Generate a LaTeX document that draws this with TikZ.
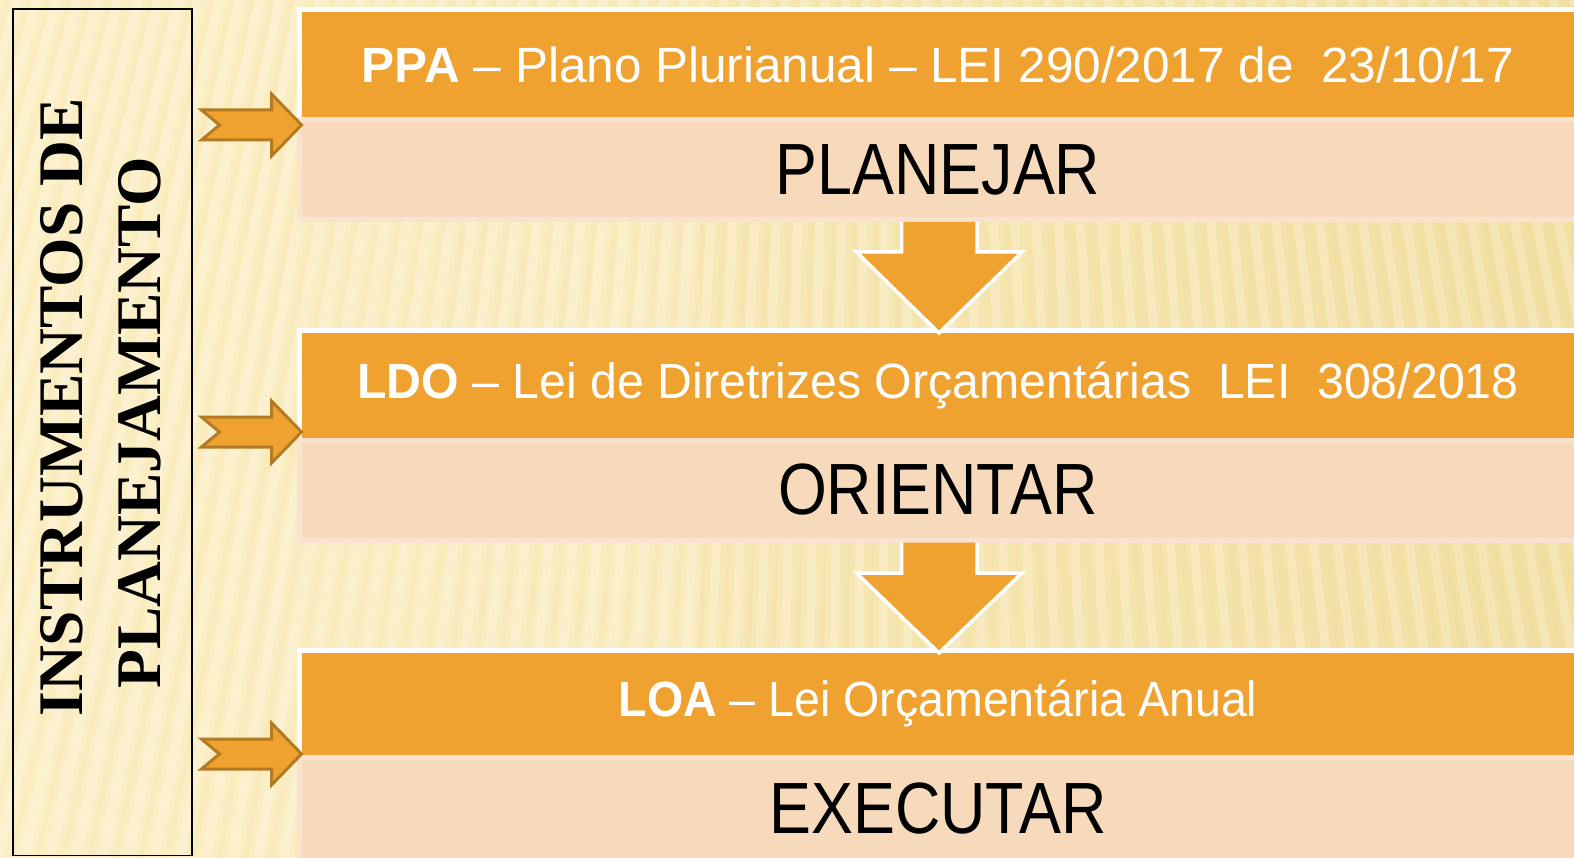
\documentclass[tikz,border=0pt]{standalone}
\usepackage{fontspec}
\setmainfont{Liberation Sans}
\newfontfamily\hdrfont{Liberation Sans}
\newfontfamily\hdrfontB[FakeStretch=0.975]{Liberation Sans}
\newfontfamily\hdrfontC[FakeStretch=0.94]{Liberation Sans}
\newfontfamily\bigfont[FakeStretch=0.865]{Liberation Sans}
\newfontfamily\vfont{Liberation Serif}
\usetikzlibrary{calc}
\definecolor{bgc}{HTML}{FBEFC5}
\definecolor{bgdark}{HTML}{F2DFA2}
\definecolor{org}{HTML}{EFA22F}
\definecolor{peach}{HTML}{F7D9BB}
\definecolor{peachedge}{HTML}{F9E2D0}
\definecolor{arredge}{HTML}{B47A21}
\tikzset{
  hdr/.style={rectangle, fill=org, draw=white, line width=5pt, outer sep=0pt, inner sep=0pt,
    minimum width=1277pt, text=white, font=\hdrfont\fontsize{49.5}{58}\selectfont, anchor=north west},
  bodybox/.style={rectangle, fill=peach, draw=peachedge, line width=5pt, outer sep=0pt, inner sep=0pt,
    minimum width=1277pt, text=black, font=\bigfont\fontsize{72.6}{80}\selectfont, anchor=north west},
  vtext/.style={rotate=90, anchor=base, inner sep=0pt, font=\vfont\bfseries\fontsize{63.5}{70}\selectfont},
  rarrow/.style={fill=org, draw=arredge, line width=3pt, line join=miter},
  darrow/.style={fill=org, draw=white, line width=3.5pt, line join=miter},
  rarr/.pic={\filldraw[rarrow] (-100,-15) -- (-30,-15) -- (-30,-31) -- (0,0) -- (-30,31) -- (-30,15) -- (-100,15) -- (-82,0) -- cycle;}
}
\begin{document}
\begin{tikzpicture}[x=1pt,y=-1pt]
\useasboundingbox (0,0) rectangle (1574,858);
% background
\shade[left color=bgc, right color=bgdark] (0,0) rectangle (1574,858);
\fill[bgc, opacity=0.55] (0,0) rectangle (700,858);
\begin{scope}
\clip (0,0) rectangle (1574,858);
\foreach \xb in {-600,-574,...,2400} {
  \pgfmathsetmacro{\xt}{900+(\xb-900)*0.7776}
  \draw[white, opacity=0.22, line width=9pt] (\xt,0) -- (\xb,858);
  \draw[bgdark!80!orange, opacity=0.08, line width=5pt] (\xt+13,0) -- (\xb+13,858);
}
\end{scope}
% left vertical box
\node[draw=black, line width=1.5pt, minimum width=179pt, minimum height=846pt, inner sep=0pt, anchor=north west] (v) at (12,8.5) {};
\node[vtext] (v1) at (82,407.5) {INSTRUMENTOS DE};
\node[vtext] (v2) at (160,422.5) {PLANEJAMENTO};
% boxes
\node[hdr, minimum height=110.5pt] (h1) at (299.5,9.5) {\textbf{PPA} – Plano Plurianual – LEI 290/2017 de \ 23/10/17};
\node[bodybox, minimum height=99.5pt] (b1) at (299.5,120) {PLANEJAR};
\node[hdr, minimum height=109.5pt, font=\hdrfontB\fontsize{49.5}{58}\selectfont] (h2) at (299.5,330.5) {\textbf{LDO} – Lei de Diretrizes Orçamentárias \ LEI \ 308/2018};
\node[bodybox, minimum height=100pt] (b2) at (299.5,440) {ORIENTAR};
\node[hdr, minimum height=106.5pt, font=\hdrfontC\fontsize{49.5}{58}\selectfont] (h3) at (299.5,650.5) {\textbf{LOA} – Lei Orçamentária Anual};
\node[bodybox, minimum height=104pt] (b3) at (299.5,757) {EXECUTAR};
% down arrows
\filldraw[darrow] ($(b1.south)+(-36.5,2.5)$) -- ($(b1.south)+(-36.5,32.5)$) -- ($(b1.south)+(-81.5,32.5)$)
  -- ($(h2.north)+(1,2.5)$) -- ($(b1.south)+(84,32.5)$) -- ($(b1.south)+(39,32.5)$) -- ($(b1.south)+(39,2.5)$);
\filldraw[darrow] ($(b2.south)+(-36.5,2.5)$) -- ($(b2.south)+(-36.5,33)$) -- ($(b2.south)+(-81.5,33)$)
  -- ($(h3.north)+(1,2.5)$) -- ($(b2.south)+(84,33)$) -- ($(b2.south)+(39,33)$) -- ($(b2.south)+(39,2.5)$);
% right arrows
\pic at ($(h1.south west)+(2,5)$) {rarr};
\pic at ($(h2.south west)+(2,-8)$) {rarr};
\pic at ($(h3.south west)+(2,-3)$) {rarr};
\end{tikzpicture}
\end{document}
